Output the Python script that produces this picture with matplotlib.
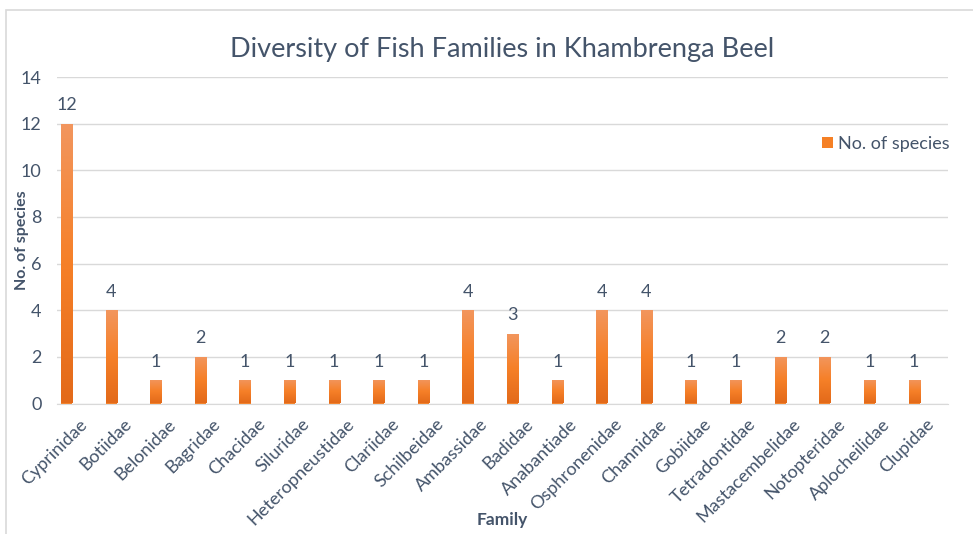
import numpy as np
import matplotlib.pyplot as plt
from matplotlib.colors import LinearSegmentedColormap
from matplotlib.patches import Rectangle

# Data
families = ['Cyprinidae', 'Botiidae', 'Belonidae', 'Bagridae', 'Chacidae',
            'Siluridae', 'Heteropneustidae', 'Clariidae', 'Schilbeidae',
            'Ambassidae', 'Badidae', 'Anabantiade', 'Osphronenidae',
            'Channidae', 'Gobiidae', 'Tetradontidae', 'Mastacembelidae',
            'Notopteridae', 'Aplocheilidae', 'Clupidae']
species = [12, 4, 1, 2, 1, 1, 1, 1, 1, 4, 3, 1, 4, 4, 1, 1, 2, 2, 1, 1]
y_ticks = [0, 2, 4, 6, 8, 10, 12, 14]

text_col = '#44546A'
grid_col = '#D9D9D9'

plt.rcParams['font.family'] = ['Lato', 'DejaVu Sans']

fig = plt.figure(figsize=(9.73, 5.34), dpi=100)
# chart border
fig.patches.append(Rectangle((6 / 973, -0.1), 1.1, (534 - 10) / 534 + 0.1,
                             transform=fig.transFigure, fill=False,
                             edgecolor=grid_col, linewidth=1.2))
ax = fig.add_axes([57 / 973, 1 - 403.5 / 534, 891 / 973, 326.5 / 534])

x = np.arange(len(families))
bars = ax.bar(x, species, width=0.25, color='#F58025', label='No. of species', zorder=2)

# gradient fill for each bar (light top, darker bottom)
cmap = LinearSegmentedColormap.from_list('og', ['#E36A1A', '#F68028', '#F2965E'])
grad = np.linspace(0, 1, 100).reshape(-1, 1)
for b in bars:
    im = ax.imshow(grad, cmap=cmap, aspect='auto', origin='lower',
                   extent=[b.get_x(), b.get_x() + b.get_width(), 0, b.get_height()],
                   zorder=3)
    im.set_clip_path(b)

for xi, v in zip(x, species):
    ax.text(xi, v + 0.45, str(v), ha='center', va='bottom', fontsize=13, color=text_col)

ax.set_xlim(-0.213, 19.76)
ax.set_ylim(0, 14)
ax.set_yticks(y_ticks)
# labels sit a little right of each bar, like the original
ax.set_xticks(x + 0.27)
ax.set_xticklabels(families, rotation=45, ha='right', rotation_mode='anchor',
                   fontsize=13, color=text_col)
ax.tick_params(axis='y', labelsize=13, labelcolor=text_col, length=0, pad=11)
ax.tick_params(axis='x', length=0, pad=9)
ax.grid(axis='y', color=grid_col, linewidth=1)
ax.set_axisbelow(True)
for s in ['top', 'right', 'left']:
    ax.spines[s].set_visible(False)
ax.spines['bottom'].set_color(grid_col)

ax.set_ylabel('No. of species', fontsize=11.5, fontweight='bold', color=text_col, va='center')
ax.yaxis.set_label_coords(-0.039, 0.5)
ax.set_xlabel('Family', fontsize=12.5, fontweight='bold', color=text_col, va='center')
ax.xaxis.set_label_coords(0.5, -0.358)

ax.set_title('Diversity of Fish Families in Khambrenga Beel', fontsize=19.5,
             color=text_col, y=1.035)

ax.legend(loc='upper right', bbox_to_anchor=(1.02, 0.87), frameon=False,
          fontsize=13, labelcolor=text_col, handlelength=0.6, handleheight=0.6,
          handletextpad=0.3)

fig.savefig('out.png', dpi=100)
